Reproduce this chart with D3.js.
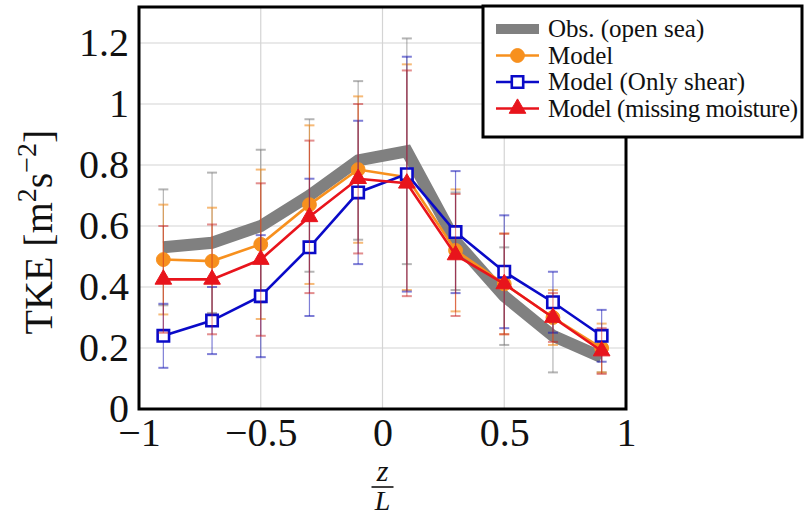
<!DOCTYPE html>
<html lang="en">
<head>
  <meta charset="utf-8">
  <title>TKE vs z/L</title>
  <script src="https://cdn.jsdelivr.net/npm/d3@7"></script>
  <style>
    * { margin: 0; padding: 0; }
    body { background: #fff; }
  </style>
</head>
<body>
  <div id="chart"></div>
  <script>
    // data
    var zL = [-0.9, -0.7, -0.5, -0.3, -0.1, 0.1, 0.3, 0.5, 0.7, 0.9];
    var obs = [0.53, 0.545, 0.6, 0.7, 0.815, 0.845, 0.55, 0.37, 0.24, 0.17];
    var obsErr = [0.19, 0.23, 0.25, 0.25, 0.26, 0.37, 0.16, 0.16, 0.12, 0.05];
    var model = [0.49, 0.485, 0.54, 0.67, 0.785, 0.76, 0.52, 0.41, 0.3, 0.2];
    var modelErr = [0.18, 0.175, 0.245, 0.26, 0.24, 0.37, 0.2, 0.165, 0.09, 0.08];
    var shear = [0.24, 0.29, 0.37, 0.53, 0.71, 0.77, 0.58, 0.45, 0.35, 0.24];
    var shearErr = [0.105, 0.11, 0.2, 0.225, 0.235, 0.385, 0.2, 0.185, 0.1, 0.085];
    var moist = [0.425, 0.425, 0.49, 0.63, 0.755, 0.74, 0.505, 0.41, 0.3, 0.19];
    var moistErr = [0.175, 0.18, 0.25, 0.25, 0.245, 0.37, 0.2, 0.165, 0.08, 0.075];
    var xTicks = [-1, -0.5, 0, 0.5, 1];
    var yTicks = [0, 0.2, 0.4, 0.6, 0.8, 1, 1.2];
    var legendLabels = ["Obs. (open sea)", "Model", "Model (Only shear)", "Model (missing moisture)"];

    var svgWidth = 805, svgHeight = 514;
    var plot = { left: 139, right: 626, top: 7, bottom: 409 };
    var serif = "'Liberation Serif', 'DejaVu Serif', serif";

    var svg = d3.select("#chart").append("svg")
        .attr("width", svgWidth)
        .attr("height", svgHeight)
        .style("font-family", serif);

    var x = d3.scaleLinear().domain([-1, 1]).range([plot.left, plot.right]);
    var y = d3.scaleLinear().domain([0, 1.318]).range([plot.bottom, plot.top]);

    // grid
    var grid = svg.append("g").attr("stroke", "#d4d4d4").attr("stroke-width", 1.2);
    grid.selectAll(".gx").data(xTicks.filter(function(d) { return Math.abs(d) < 1; }))
      .enter().append("line")
        .attr("x1", function(d) { return x(d); }).attr("x2", function(d) { return x(d); })
        .attr("y1", plot.top).attr("y2", plot.bottom);
    grid.selectAll(".gy").data(yTicks.filter(function(d) { return d > 0; }))
      .enter().append("line")
        .attr("x1", plot.left).attr("x2", plot.right)
        .attr("y1", function(d) { return y(d); }).attr("y2", function(d) { return y(d); });

    // axes (labels only, ticks hidden)
    var fmt = function(d) { return d3.format("")(d).replace("-", "\u2212"); };
    var xAxisG = svg.append("g")
        .attr("transform", "translate(0," + plot.bottom + ")")
        .call(d3.axisBottom(x).tickValues(xTicks).tickFormat(fmt).tickSize(0).tickPadding(9));
    xAxisG.select(".domain").remove();
    xAxisG.attr("font-family", null);
    xAxisG.selectAll("text").attr("font-size", "40px").style("font-family", serif).attr("fill", "#111");

    var yAxisG = svg.append("g")
        .attr("transform", "translate(" + plot.left + ",0)")
        .call(d3.axisLeft(y).tickValues(yTicks).tickFormat(fmt).tickSize(0).tickPadding(10));
    yAxisG.select(".domain").remove();
    yAxisG.attr("font-family", null);
    yAxisG.selectAll("text").attr("font-size", "40px").style("font-family", serif).attr("fill", "#111");

    // series
    var series = [
      { vals: obs, err: obsErr, color: "#808080", width: 12, marker: null, errColor: "rgba(120,120,120,0.55)" },
      { vals: model, err: modelErr, color: "#f7901e", width: 2.6, marker: "circle", errColor: "rgba(240,140,30,0.6)" },
      { vals: shear, err: shearErr, color: "#0a0ac8", width: 2.6, marker: "square", errColor: "rgba(20,20,180,0.55)" },
      { vals: moist, err: moistErr, color: "#e8141c", width: 2.6, marker: "triangle", errColor: "rgba(200,30,30,0.5)" }
    ];

    var line = d3.line()
        .x(function(d, i) { return x(zL[i]); })
        .y(function(d) { return y(d); });

    var symbolFor = {
      circle: d3.symbol().type(d3.symbolCircle).size(150),
      square: d3.symbol().type(d3.symbolSquare).size(130),
      triangle: d3.symbol().type(d3.symbolTriangle).size(120)
    };

    function drawMarker(g, s, px, py) {
      var m = g.append("path").attr("d", symbolFor[s.marker]())
        .attr("transform", "translate(" + px + "," + py + ")");
      if (s.marker === "square") {
        m.attr("fill", "#fff").attr("stroke", s.color).attr("stroke-width", 2.6);
      } else {
        m.attr("fill", s.color).attr("stroke", s.color).attr("stroke-width", 1);
      }
    }

    series.forEach(function(s) {
      var g = svg.append("g");
      // error bars
      var eb = g.append("g").attr("stroke", s.errColor).attr("stroke-width", 1.2);
      s.vals.forEach(function(v, i) {
        var px = x(zL[i]), lo = y(v - s.err[i]), hi = y(v + s.err[i]);
        eb.append("line").attr("x1", px).attr("x2", px).attr("y1", lo).attr("y2", hi);
        eb.append("line").attr("x1", px - 5).attr("x2", px + 5).attr("y1", lo).attr("y2", lo).attr("stroke-width", 2);
        eb.append("line").attr("x1", px - 5).attr("x2", px + 5).attr("y1", hi).attr("y2", hi).attr("stroke-width", 2);
      });
      g.append("path").datum(s.vals)
        .attr("d", line)
        .attr("fill", "none")
        .attr("stroke", s.color)
        .attr("stroke-width", s.width)
        .attr("stroke-linejoin", "miter");
      if (s.marker) {
        s.vals.forEach(function(v, i) { drawMarker(g, s, x(zL[i]), y(v)); });
      }
    });

    // frame
    svg.append("rect")
      .attr("x", plot.left).attr("y", plot.top)
      .attr("width", plot.right - plot.left).attr("height", plot.bottom - plot.top)
      .attr("fill", "none").attr("stroke", "#000").attr("stroke-width", 3);

    // y label
    var yl = svg.append("text")
      .attr("transform", "translate(52,232) rotate(-90)")
      .attr("text-anchor", "middle")
      .attr("fill", "#111")
      .attr("font-size", "40px");
    yl.append("tspan").text("TKE [m");
    yl.append("tspan").attr("font-size", "28px").attr("dy", -16).text("2");
    yl.append("tspan").attr("dy", 16).text("s");
    yl.append("tspan").attr("font-size", "28px").attr("dy", -16).text("\u22122");
    yl.append("tspan").attr("dy", 16).text("]");

    // x label: z over L
    var xc = x(0);
    svg.append("text").attr("x", xc).attr("y", 481).attr("text-anchor", "middle")
      .attr("font-size", "30px").attr("font-style", "italic").attr("fill", "#111").text("z");
    svg.append("line").attr("x1", xc - 11).attr("x2", xc + 11).attr("y1", 487).attr("y2", 487)
      .attr("stroke", "#111").attr("stroke-width", 1.6);
    svg.append("text").attr("x", xc).attr("y", 510).attr("text-anchor", "middle")
      .attr("font-size", "28px").attr("font-style", "italic").attr("fill", "#111").text("L");

    // legend
    var lg = svg.append("g");
    lg.append("rect").attr("x", 483).attr("y", 6).attr("width", 319).attr("height", 131)
      .attr("fill", "#fff").attr("stroke", "#000").attr("stroke-width", 3);
    legendLabels.forEach(function(label, i) {
      var s = series[i], cy = 29 + i * 26.5;
      lg.append("line").attr("x1", 496).attr("x2", 539).attr("y1", cy).attr("y2", cy)
        .attr("stroke", s.color).attr("stroke-width", s.marker ? 2.6 : 10);
      if (s.marker) drawMarker(lg, s, 517.5, cy);
      lg.append("text").attr("x", 548).attr("y", cy + 8)
        .attr("font-size", "25px").attr("fill", "#111")
        .attr("textLength", label.length > 20 ? 250 : null)
        .text(label);
    });
  </script>
</body>
</html>
